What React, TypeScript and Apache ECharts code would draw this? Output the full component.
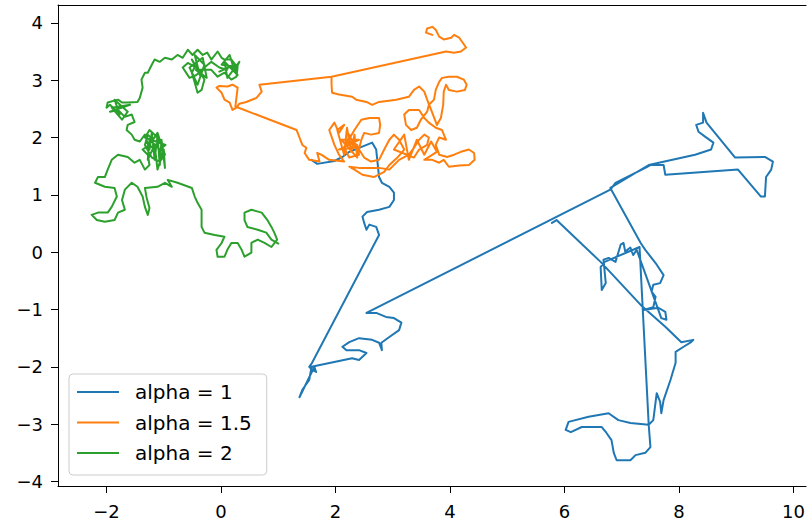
import React, { useEffect, useRef } from "react";
import * as echarts from "echarts";

const seriesNames = ["alpha = 1", "alpha = 1.5", "alpha = 2"];
const seriesColors = ["#1f77b4", "#ff7f0e", "#2ca02c"];
const xTicks = [-2, 0, 2, 4, 6, 8, 10];
const yTicks = [-4, -3, -2, -1, 0, 1, 2, 3, 4];

const alpha1Path: number[][] = [
  [1.58, 1.61], [1.68, 1.54], [1.98, 1.59], [2.12, 1.66], [2.24, 1.75], [2.64, 1.91], [2.71, 1.79],
  [2.76, 1.31], [2.81, 1.21], [2.94, 1.14], [3.02, 1.04], [3.02, 0.91], [2.94, 0.79], [2.76, 0.74],
  [2.55, 0.70], [2.47, 0.62], [2.50, 0.51], [2.54, 0.39], [2.59, 0.48], [2.71, 0.44], [2.76, 0.30],
  [1.59, -1.93], [1.54, -2.00], [1.59, -2.05], [1.66, -2.09], [1.63, -2.00], [1.37, -2.53], [1.42, -2.40],
  [1.54, -2.23], [1.58, -2.00], [2.29, -1.85], [2.41, -1.88], [2.54, -1.76], [2.41, -1.71], [2.19, -1.71],
  [2.12, -1.65], [2.24, -1.57], [2.41, -1.50], [2.64, -1.53], [2.76, -1.58], [2.81, -1.71], [2.80, -1.58],
  [2.94, -1.48], [3.11, -1.36], [3.15, -1.23], [3.02, -1.15], [2.88, -1.13], [2.71, -1.06], [2.54, -1.06],
  [6.80, 1.09], [6.89, 1.21], [7.41, 1.47], [7.50, 1.52], [7.73, 1.52], [7.76, 1.35], [9.03, 1.44],
  [9.43, 0.97], [9.50, 0.97], [9.52, 1.31], [9.61, 1.44], [9.64, 1.58], [9.50, 1.66], [8.98, 1.65],
  [8.48, 2.26], [8.42, 2.43], [8.42, 2.26], [8.30, 2.22], [8.34, 2.10], [8.46, 2.01], [8.60, 1.91],
  [8.56, 1.79], [8.28, 1.70], [7.47, 1.52], [6.80, 1.12], [7.33, 0.16], [7.41, 0.04], [7.59, -0.19],
  [7.73, -0.40], [7.67, -0.54], [7.55, -0.57], [7.52, -0.69], [7.59, -0.78], [7.55, -0.96], [7.38, -1.01],
  [7.64, -0.97], [7.76, -1.04], [7.78, -1.18], [7.69, -1.15], [7.26, 0.04], [7.20, -0.05], [7.15, 0.08],
  [7.06, 0.01], [7.03, 0.16], [6.98, 0.13], [6.89, -0.17], [6.77, -0.10], [6.68, -0.13], [6.72, -0.54],
  [6.65, -0.66], [6.63, -0.26], [6.70, -0.17], [7.31, 0.09], [7.47, -3.01], [7.50, -3.40], [7.41, -3.50],
  [7.24, -3.54], [7.15, -3.63], [6.91, -3.63], [6.86, -3.50], [6.82, -3.28], [6.73, -3.15], [6.65, -3.05],
  [6.30, -3.05], [6.11, -3.14], [6.02, -3.10], [6.07, -2.96], [6.42, -2.87], [6.77, -2.81], [6.94, -2.93],
  [7.15, -2.98], [7.47, -3.01], [7.55, -2.93], [7.61, -2.46], [7.67, -2.61], [7.69, -2.81], [7.73, -2.58],
  [7.85, -2.23], [7.94, -1.93], [7.94, -1.74], [8.08, -1.65], [8.21, -1.57], [8.25, -1.53], [8.04, -1.57],
  [7.76, -1.30], [7.33, -0.92], [6.63, -0.17], [5.86, 0.56], [5.78, 0.51],
];

const alpha15Path: number[][] = [
  [3.69, 3.79], [3.58, 3.83], [3.60, 3.90], [3.69, 3.93], [3.75, 3.88], [3.81, 3.76], [3.89, 3.71],
  [4.02, 3.74], [4.07, 3.79], [4.16, 3.74], [4.21, 3.67], [4.28, 3.57], [4.19, 3.50], [4.07, 3.48],
  [3.93, 3.50], [1.93, 3.06], [0.67, 2.92], [0.71, 2.80], [0.62, 2.69], [0.44, 2.62], [0.32, 2.59],
  [0.27, 2.52], [0.20, 2.48], [0.15, 2.61], [0.06, 2.66], [0.01, 2.78], [-0.08, 2.87], [-0.03, 2.90],
  [0.11, 2.89], [0.20, 2.92], [0.29, 2.87], [0.25, 2.54], [1.32, 2.13], [1.37, 2.00], [1.42, 1.87],
  [1.49, 1.82], [1.46, 1.73], [1.54, 1.61], [1.72, 1.58], [1.68, 1.73], [1.75, 1.70], [1.89, 1.61],
  [2.15, 1.58], [2.06, 1.70], [1.98, 1.87], [1.89, 2.13], [1.98, 2.26], [2.06, 2.08], [2.15, 2.22],
  [2.03, 2.13], [2.15, 1.70], [2.20, 2.17], [2.27, 1.75], [2.33, 2.05], [2.38, 1.65], [2.10, 1.96],
  [2.41, 1.96], [2.06, 1.79], [2.34, 1.82],
  [2.24, 2.05], [2.19, 1.87], [2.33, 1.96], [2.27, 1.79], [2.38, 1.87], [2.41, 1.70], [2.24, 1.65],
  [2.15, 1.82], [2.33, 2.13], [2.45, 2.31], [2.59, 2.34], [2.76, 2.34], [2.78, 2.22], [2.76, 2.08],
  [2.62, 2.05], [2.50, 2.08], [2.45, 1.96], [2.41, 1.79], [2.50, 1.65], [2.62, 1.58], [2.76, 1.61],
  [2.85, 1.79], [2.94, 1.96], [3.02, 2.05], [3.11, 1.96], [3.20, 1.79], [3.08, 1.65], [2.94, 1.52],
  [2.85, 1.40], [2.67, 1.31], [2.47, 1.35], [2.33, 1.44], [2.24, 1.49], [2.41, 1.47], [2.76, 1.47],
  [2.94, 1.44], [3.11, 1.61], [3.28, 1.70], [3.37, 1.82], [3.46, 1.96], [3.55, 2.05], [3.63, 2.00],
  [3.60, 1.87], [3.46, 1.79], [3.37, 1.65],
  [3.02, 1.79], [3.20, 2.05], [3.28, 1.61], [3.42, 1.96], [3.55, 1.70], [3.67, 1.93], [3.77, 1.75],
  [3.55, 1.61], [3.69, 1.61], [3.81, 1.56], [3.89, 1.61],
  [3.98, 1.49], [4.16, 1.51], [4.33, 1.52], [4.43, 1.61], [4.42, 1.73], [4.33, 1.79], [4.19, 1.75],
  [4.07, 1.70], [3.95, 1.66], [3.81, 1.70], [3.75, 1.87], [3.81, 2.00], [3.93, 1.96], [3.86, 2.13],
  [3.75, 2.17], [3.63, 2.26], [3.55, 2.34], [3.46, 2.48], [3.28, 2.48], [3.20, 2.40], [3.23, 2.22],
  [3.32, 2.13], [3.42, 2.17], [3.49, 2.31], [3.60, 2.45], [3.63, 2.57], [3.72, 2.66], [3.75, 2.83],
  [3.81, 2.97], [3.86, 3.04], [3.98, 3.06], [4.12, 3.06], [4.24, 3.01], [4.29, 2.92], [4.26, 2.83],
  [4.12, 2.80], [3.98, 2.83], [3.93, 2.92], [3.89, 2.80], [3.88, 2.57], [3.84, 2.34], [3.77, 2.22],
  [3.67, 2.48], [3.60, 2.66], [3.55, 2.80], [3.46, 2.89], [3.37, 2.83], [3.28, 2.71], [3.06, 2.66],
  [2.76, 2.62], [2.64, 2.57], [2.54, 2.62], [2.36, 2.66], [2.29, 2.71], [2.06, 2.75], [1.94, 2.78],
  [1.93, 2.92], [1.93, 3.04],
];

const alpha2Path: number[][] = [
  [0.11, 3.18], [-0.03, 3.22], [-0.17, 3.32], [-0.29, 3.22], [-0.43, 3.09], [-0.55, 3.04], [-0.67, 3.22],
  [-0.58, 3.30], [-0.46, 3.23], [-0.51, 3.13], [-0.46, 2.96], [-0.41, 2.78], [-0.34, 2.83], [-0.29, 3.01],
  [-0.51, 3.36], [-0.37, 3.09], [-0.46, 3.44], [-0.29, 3.27], [-0.41, 2.92], [-0.55, 3.22], [-0.32, 3.39],
  [-0.25, 3.04], [-0.44, 3.18],
  [-0.17, 3.18], [-0.06, 3.06], [0.06, 3.13], [0.18, 3.01], [0.27, 3.06], [0.29, 3.23],
  [0.01, 3.27], [0.15, 3.44], [0.24, 3.15], [0.32, 3.32], [0.11, 3.04], [0.06, 3.32], [0.29, 3.09],
  [0.18, 3.25], [-0.03, 3.15], [0.25, 3.27],
  [0.18, 3.36], [0.06, 3.36], [0.01, 3.39], [-0.06, 3.50], [-0.17, 3.36], [-0.24, 3.48], [-0.32, 3.44],
  [-0.41, 3.53], [-0.50, 3.44], [-0.58, 3.53], [-0.67, 3.39], [-0.76, 3.44], [-0.86, 3.36], [-0.98, 3.39],
  [-1.07, 3.32], [-1.16, 3.36], [-1.21, 3.27], [-1.28, 3.13], [-1.33, 3.13], [-1.39, 3.01], [-1.37, 2.87],
  [-1.42, 2.69], [-1.46, 2.62], [-1.63, 2.61], [-1.73, 2.61], [-1.80, 2.66], [-1.98, 2.61], [-2.00, 2.52],
  [-1.94, 2.57], [-1.77, 2.40], [-1.86, 2.66], [-1.63, 2.45], [-1.73, 2.31], [-1.91, 2.52], [-1.59, 2.57],
  [-1.94, 2.45], [-1.80, 2.48], [-1.68, 2.36], [-1.56, 2.40], [-1.51, 2.27], [-1.63, 2.22], [-1.65, 2.13],
  [-1.56, 2.05], [-1.51, 1.96], [-1.42, 1.93],
  [-1.33, 2.05], [-1.25, 1.79], [-1.21, 2.08], [-1.16, 1.61], [-1.11, 2.03], [-1.07, 1.52], [-1.04, 1.96],
  [-0.98, 1.47], [-1.00, 1.79], [-1.11, 1.44], [-1.16, 1.87], [-1.28, 1.61], [-1.25, 1.96], [-1.07, 1.79],
  [-0.97, 1.87],
  [-1.33, 2.00], [-1.25, 2.13], [-1.12, 2.01], [-1.04, 1.87],
  [-0.98, 1.70], [-1.07, 1.58], [-1.21, 1.65], [-1.33, 1.87], [-1.28, 2.05], [-1.19, 1.96], [-1.11, 2.08],
  [-1.07, 1.96], [-1.16, 1.79], [-1.25, 1.87], [-1.37, 1.79], [-1.28, 1.70], [-1.25, 1.52], [-1.33, 1.44],
  [-1.42, 1.61], [-1.51, 1.56], [-1.63, 1.66], [-1.80, 1.70], [-1.91, 1.61], [-1.98, 1.44], [-2.03, 1.31],
  [-2.15, 1.31], [-2.20, 1.21], [-2.03, 1.14], [-1.86, 1.12], [-1.82, 0.97], [-1.91, 0.79], [-1.98, 0.69],
  [-2.15, 0.69], [-2.26, 0.65], [-2.17, 0.56], [-2.03, 0.53], [-1.86, 0.56], [-1.80, 0.69], [-1.68, 0.74],
  [-1.73, 0.91], [-1.68, 1.09], [-1.56, 1.21], [-1.46, 1.14], [-1.37, 0.97], [-1.33, 0.79], [-1.28, 0.65],
  [-1.25, 0.77], [-1.30, 0.95], [-1.33, 1.12], [-1.11, 1.14], [-0.98, 1.21], [-0.86, 1.14], [-0.93, 1.26],
  [-0.76, 1.21], [-0.51, 1.12], [-0.46, 0.97], [-0.41, 0.86], [-0.34, 0.74], [-0.34, 0.44], [-0.29, 0.34],
  [-0.11, 0.30], [0.06, 0.27], [0.01, 0.16], [-0.08, 0.04], [-0.06, -0.08], [0.06, -0.08], [0.11, 0.04],
  [0.18, 0.16], [0.29, 0.16], [0.36, 0.04], [0.41, -0.08], [0.53, -0.01], [0.53, 0.16], [0.64, 0.22],
  [0.76, 0.16], [0.88, 0.09], [0.98, 0.22], [0.93, 0.34], [0.88, 0.44], [0.81, 0.56], [0.71, 0.69],
  [0.53, 0.74], [0.41, 0.69], [0.41, 0.56], [0.46, 0.44], [0.64, 0.39], [0.79, 0.34], [0.88, 0.22],
  [1.00, 0.15],
];

const paths = [alpha1Path, alpha15Path, alpha2Path];

const FONT = "DejaVu Sans";
const fmt = (v: number) => String(v).replace("-", "\u2212");
const X_MIN = -2.848;
const X_MAX = 10.218;

export default function App() {
  const ref = useRef<HTMLDivElement>(null);
  useEffect(() => {
    if (!ref.current) return;
    const chart = echarts.init(ref.current, undefined, { renderer: "svg" });
    chart.setOption({
      animation: false,
      backgroundColor: "#ffffff",
      grid: { left: 58, top: 5, right: 0, height: 481, show: false },
      legend: {
        orient: "vertical",
        left: 69, top: 374,
        padding: [8, 15, 12, 8],
        itemGap: 10.5,
        itemWidth: 42, itemHeight: 2,
        icon: "rect",
        backgroundColor: "rgba(255,255,255,0.8)",
        borderColor: "#cccccc", borderWidth: 1, borderRadius: 4,
        textStyle: { fontFamily: FONT, fontSize: 20, color: "#000", lineHeight: 20, padding: [0, 0, 0, 11] },
        data: seriesNames,
      },
      xAxis: [
        {
          type: "value", min: X_MIN, max: X_MAX,
          axisLine: { onZero: false, lineStyle: { color: "#000", width: 1 } },
          axisTick: { show: true, length: 7, lineStyle: { color: "#000" }, customValues: xTicks },
          axisLabel: { customValues: xTicks, formatter: fmt, fontFamily: FONT, fontSize: 18, color: "#000", margin: 16 },
          splitLine: { show: false },
        },
        {
          type: "value", min: X_MIN, max: X_MAX, position: "top",
          axisLine: { onZero: false, lineStyle: { color: "#000", width: 1 } },
          axisTick: { show: false }, axisLabel: { show: false }, splitLine: { show: false },
        },
      ],
      yAxis: {
        type: "value", min: -4.079, max: 4.311,
        axisLine: { onZero: false, lineStyle: { color: "#000", width: 1 } },
        axisTick: { show: true, length: 7, lineStyle: { color: "#000" }, customValues: yTicks },
        axisLabel: { customValues: yTicks, formatter: fmt, fontFamily: FONT, fontSize: 18, color: "#000", margin: 15 },
        splitLine: { show: false },
      },
      series: paths.map((p, i) => ({
        name: seriesNames[i],
        type: "line",
        xAxisIndex: 0,
        data: p,
        showSymbol: false,
        symbol: "none",
        color: seriesColors[i],
        lineStyle: { width: 2, color: seriesColors[i], join: "round", cap: "round" },
        z: 2 + i,
      })),
    });
    return () => chart.dispose();
  }, []);
  return <div ref={ref} style={{ position: "fixed", left: 0, top: 0, width: 808, height: 522 }} />;
}
